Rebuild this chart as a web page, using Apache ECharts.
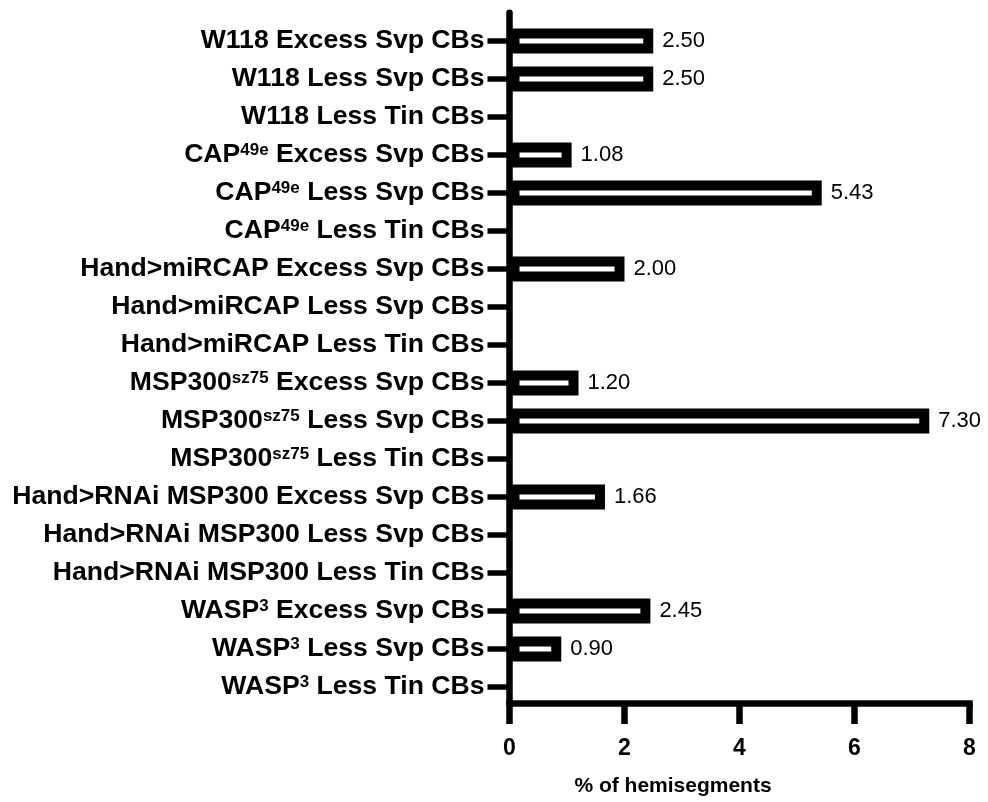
<!DOCTYPE html>
<html>
<head>
<meta charset="utf-8">
<script src="https://cdn.jsdelivr.net/npm/echarts@6/dist/echarts.min.js"></script>
<style>
  html, body { margin: 0; padding: 0; background: #fff; }
  #chart { width: 988px; height: 802px; }
</style>
</head>
<body>
<div id="chart"></div>
<script>
// categories, top to bottom ({s|...} = superscript)
const categories = [
  'W118 Excess Svp CBs',
  'W118 Less Svp CBs',
  'W118 Less Tin CBs',
  'CAP{s|49e} Excess Svp CBs',
  'CAP{s|49e} Less Svp CBs',
  'CAP{s|49e} Less Tin CBs',
  'Hand>miRCAP Excess Svp CBs',
  'Hand>miRCAP Less Svp CBs',
  'Hand>miRCAP Less Tin CBs',
  'MSP300{s|sz75} Excess Svp CBs',
  'MSP300{s|sz75} Less Svp CBs',
  'MSP300{s|sz75} Less Tin CBs',
  'Hand>RNAi MSP300 Excess Svp CBs',
  'Hand>RNAi MSP300 Less Svp CBs',
  'Hand>RNAi MSP300 Less Tin CBs',
  'WASP{s|3} Excess Svp CBs',
  'WASP{s|3} Less Svp CBs',
  'WASP{s|3} Less Tin CBs'
];
// % of hemisegments
const values = [2.50, 2.50, 0, 1.08, 5.43, 0, 2.00, 0, 0, 1.20, 7.30, 0, 1.66, 0, 0, 2.45, 0.90, 0];
const xTicks = [0, 2, 4, 6, 8];

const font = 'Liberation Sans, Arial, sans-serif';
const chart = echarts.init(document.getElementById('chart'));

// zero values: no bar, no label
const barData = values.map(function (v) {
  if (v === 0) {
    return { value: v, itemStyle: { borderWidth: 0, color: 'transparent' }, label: { show: false } };
  }
  return v;
});

const option = {
  animation: false,
  backgroundColor: '#fff',
  grid: [
    // bars
    { left: 509.5, width: 460, top: 22, height: 684 },
    // visible axes
    { left: 509.5, width: 460, top: 12.7, height: 700 }
  ],
  xAxis: [
    { gridIndex: 0, type: 'value', min: 0, max: 8, show: false },
    {
      gridIndex: 1, type: 'value', min: xTicks[0], max: xTicks[xTicks.length - 1], interval: 2,
      z: 5,
      axisLine: { show: true, lineStyle: { color: '#000', width: 6.5, cap: 'square' } },
      axisTick: { show: true, length: 21, lineStyle: { color: '#000', width: 6.5 } },
      splitLine: { show: false },
      axisLabel: { margin: 34, color: '#000', fontSize: 23, fontWeight: 'bold', fontFamily: font },
      name: '% of hemisegments',
      nameLocation: 'middle',
      nameGap: 73,
      nameTextStyle: { color: '#000', fontSize: 21, fontWeight: 'bold', fontFamily: font, padding: [0, 133, 0, 0] }
    }
  ],
  yAxis: [
    {
      gridIndex: 0, type: 'category', inverse: true, data: categories,
      axisLine: { show: false },
      axisTick: { show: true, alignWithLabel: true, length: 22, lineStyle: { color: '#000', width: 5.5 } },
      axisLabel: {
        margin: 25, color: '#000', fontSize: 26.6, fontWeight: 'bold', fontFamily: font,
        rich: {
          s: { fontSize: 17, fontWeight: 'bold', fontFamily: font, color: '#000', verticalAlign: 'top' }
        }
      }
    },
    {
      gridIndex: 1, type: 'value', min: 0, max: 1, z: 5,
      axisLine: { show: true, lineStyle: { color: '#000', width: 6.5 } },
      axisTick: { show: false },
      axisLabel: { show: false },
      splitLine: { show: false }
    }
  ],
  series: [
    {
      type: 'bar',
      xAxisIndex: 0,
      yAxisIndex: 0,
      data: barData,
      barWidth: 25,
      itemStyle: { color: '#fff', borderColor: '#000', borderWidth: 10 },
      label: {
        show: true,
        position: 'right',
        distance: 9,
        color: '#000',
        fontSize: 22,
        fontFamily: font,
        formatter: function (p) { return p.value.toFixed(2); }
      }
    }
  ]
};

chart.setOption(option);
</script>
</body>
</html>
